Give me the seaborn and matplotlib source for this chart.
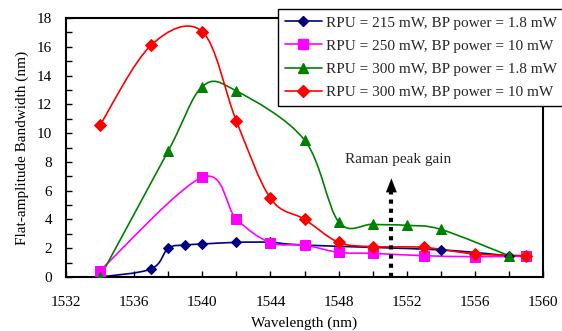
import numpy as np
import matplotlib
matplotlib.use("Agg")
import matplotlib.pyplot as plt
from matplotlib.path import Path
from matplotlib.patches import PathPatch
from matplotlib.lines import Line2D
import seaborn as sns

# ---- data ----
labels = [
    "RPU = 215 mW, BP power = 1.8 mW",
    "RPU = 250 mW, BP power = 10 mW",
    "RPU = 300 mW, BP power = 1.8 mW",
    "RPU = 300 mW, BP power = 10 mW",
]
x_215_18 = [1534, 1537, 1538, 1539, 1540, 1542, 1544, 1546, 1554, 1558]
y_215_18 = [0.0, 0.56, 2.0, 2.22, 2.29, 2.41, 2.41, 2.22, 1.88, 1.47]
x_250_10 = [1534, 1540, 1542, 1544, 1546, 1548, 1550, 1553, 1556, 1559]
y_250_10 = [0.44, 6.93, 4.03, 2.38, 2.22, 1.71, 1.64, 1.48, 1.41, 1.45]
x_300_18 = [1534, 1538, 1540, 1542, 1546, 1548, 1550, 1552, 1554, 1558]
y_300_18 = [0.0, 8.76, 13.23, 12.93, 9.52, 3.84, 3.66, 3.59, 3.31, 1.48]
x_300_10 = [1534, 1537, 1540, 1542, 1544, 1546, 1548, 1550, 1553, 1556, 1559]
y_300_10 = [10.56, 16.12, 17.05, 10.84, 5.47, 4.01, 2.41, 2.11, 2.06, 1.6, 1.48]

series_x = [x_215_18, x_250_10, x_300_18, x_300_10]
series_y = [y_215_18, y_250_10, y_300_18, y_300_10]
colors = ["#000080", "#FF00FF", "#008000", "#FF0000"]
markers = ["D", "s", "^", "D"]
msizes = [5.5, 6.5, 7.5, 6.5]

sns.set_theme(style="white")
plt.rcParams["font.family"] = ["Liberation Serif", "DejaVu Serif"]
plt.rcParams["font.size"] = 11

fig = plt.figure(figsize=(5.62, 3.31), dpi=100)
ax = fig.add_axes([66/562, 1-277/331, (543-66)/562, (277-18)/331])


def smooth_path(xs, ys):
    pts = np.column_stack([xs, ys]).astype(float)
    n = len(pts)
    verts = [pts[0]]
    codes = [Path.MOVETO]
    for i in range(n - 1):
        p0 = pts[i - 1] if i > 0 else pts[i]
        p1 = pts[i]
        p2 = pts[i + 1]
        p3 = pts[i + 2] if i + 2 < n else pts[i + 1]
        c1 = p1 + (p2 - p0) / 6.0
        c2 = p2 - (p3 - p1) / 6.0
        verts += [c1, c2, p2]
        codes += [Path.CURVE4] * 3
    return Path(verts, codes)


for xs, ys, c, m, ms, lab in zip(series_x, series_y, colors, markers, msizes, labels):
    patch = PathPatch(smooth_path(xs, ys), facecolor="none", edgecolor=c, lw=1.2, zorder=2)
    ax.add_patch(patch)
    sns.lineplot(x=xs, y=ys, ax=ax, color=c, marker=m, markersize=ms, linestyle="",
                 markeredgecolor=c, zorder=3, legend=False)

# Arrow annotation
ax.plot([1551.1, 1551.1], [0, 5.9], color="black", lw=3, linestyle=(0, (1, 1.2)), zorder=4)
ax.annotate("", xy=(1551.1, 7.05), xytext=(1551.1, 5.8),
            arrowprops=dict(arrowstyle="-|>,head_width=0.35,head_length=0.9",
                            color="black", lw=0.1), zorder=5)
ax.text(1551.5, 8.2, "Raman peak gain", ha="center", va="center", fontsize=11)

ax.set_xlim(1532, 1560)
ax.set_ylim(0, 18)
ax.set_xticks(np.arange(1532, 1561, 4))
ax.set_xticks(np.arange(1532, 1561, 2), minor=True)
ax.set_yticks(np.arange(0, 19, 2))
ax.set_yticks(np.arange(0, 19, 1), minor=True)
ax.tick_params(axis="both", which="both", direction="in", length=4, width=1, color="black",
               labelsize=11, labelcolor="black")
ax.tick_params(axis="x", which="both", top=False, bottom=True, pad=14)
ax.tick_params(axis="y", which="both", left=True, right=False, pad=10)
for s in ax.spines.values():
    s.set_color("black")
    s.set_linewidth(1.5)
ax.set_xlabel("Wavelength (nm)", fontsize=11, color="black", labelpad=5)
ax.set_ylabel("Flat-amplitude Bandwidth (nm)", fontsize=11, color="black", labelpad=6)

handles = [Line2D([0], [0], color=c, marker=m, markersize=ms, lw=1.2)
           for c, m, ms in zip(colors, markers, msizes)]
leg = fig.legend(handles, labels, loc="upper left", bbox_to_anchor=(278/562, 1-9/331),
                 bbox_transform=fig.transFigure, borderaxespad=0, fontsize=11,
                 frameon=True, fancybox=False, framealpha=1, edgecolor="black",
                 handlelength=2.4, handletextpad=0.3, labelspacing=0.62, borderpad=0.45)
leg.get_frame().set_linewidth(1.0)

fig.savefig("out.png", dpi=100)
